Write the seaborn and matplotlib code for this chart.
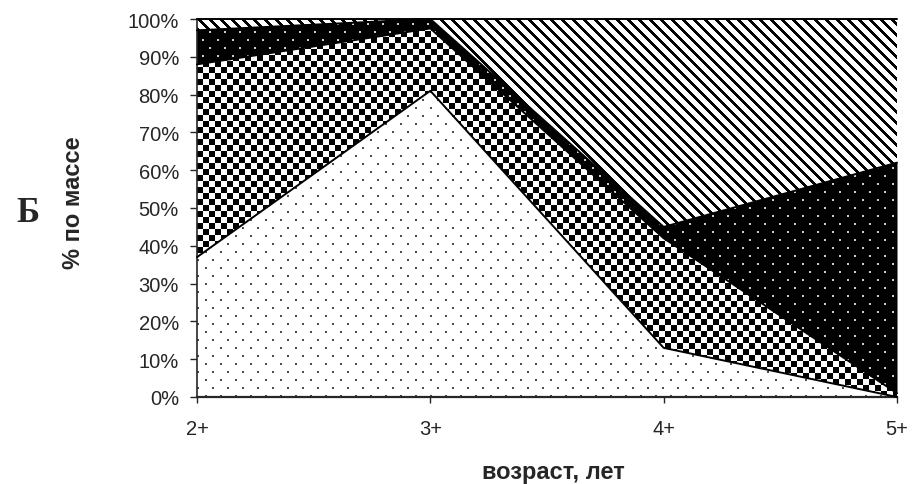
import numpy as np
import matplotlib
matplotlib.use('Agg')
import matplotlib.pyplot as plt
import seaborn as sns

ages = ['2+', '3+', '4+', '5+']
layer_dots = [37, 81, 13, 0]
layer_checker = [51, 16.5, 29, 1]
layer_black = [9, 2.5, 3, 61]
layer_stripes = [3, 0, 55, 38]

sns.set_style('ticks')
plt.rcParams['font.family'] = ['Liberation Sans', 'DejaVu Sans']

fig = plt.figure(figsize=(9.15, 4.85), dpi=100)
ax = fig.add_axes([197 / 915, 87 / 485, 700 / 915, 378 / 485])

x = np.arange(len(ages))
layers = [layer_dots, layer_checker, layer_black, layer_stripes]
colls = ax.stackplot(x, *layers, colors=['white', 'white', 'black', 'white'],
                     linewidth=0)

# fill textures (one texel per screen pixel of the axes)
H, W = 378, 700
r, c = np.mgrid[0:H, 0:W]

def dot_grid(r, c):
    row = (r // 8) % 2
    on = ((r % 8) < 2) & (((c + 7 * row) % 15) < 2)
    return on

tex_dots = np.where(dot_grid(r, c), 0.3, 1.0)
tex_checker = (((r // 6) + (c // 6)) % 2).astype(float)
tex_black = np.where(dot_grid(r + 4, c + 3), 0.8, 0.0)
tex_stripes = np.where(((c - r) % 11) < 4, 0.0, 1.0)

for coll, tex in zip(colls, [tex_dots, tex_checker, tex_black, tex_stripes]):
    im = ax.imshow(tex, cmap='gray', vmin=0, vmax=1, extent=[0, 3, 0, 100],
                   aspect='auto', interpolation='nearest', zorder=2.5)
    im.set_clip_path(coll.get_paths()[0], ax.transData)

tops = np.cumsum(np.array(layers), axis=0)
for t in tops:
    ax.plot(x, t, color='black', lw=1.4, zorder=3, clip_on=False)

ax.set_xlim(0, 3)
ax.set_ylim(0, 100)
ax.set_xticks(x)
ax.set_xticklabels(ages, fontsize=14.5)
ax.set_yticks(np.arange(0, 101, 10))
ax.set_yticklabels([f'{v}%' for v in range(0, 101, 10)], fontsize=14.5)
ax.tick_params(axis='x', direction='out', length=4.5, width=1, pad=11)
ax.tick_params(axis='y', direction='out', length=5, width=1, pad=8)
sns.despine(ax=ax)
ax.spines['left'].set_linewidth(1.2)
ax.spines['bottom'].set_linewidth(1.6)

fig.text(553 / 915, 1 - 473 / 485, 'возраст, лет', fontsize=17,
         fontweight='bold', ha='center', va='center')
fig.text(74 / 915, 1 - 203 / 485, '% по массе', fontsize=17,
         fontweight='bold', rotation=90, ha='center', va='center')
fig.text(28 / 915, 1 - 214 / 485, 'Б', fontsize=25, fontweight='bold',
         family=['Liberation Serif', 'DejaVu Serif'], ha='center', va='center')

fig.savefig('out.png', dpi=100)
